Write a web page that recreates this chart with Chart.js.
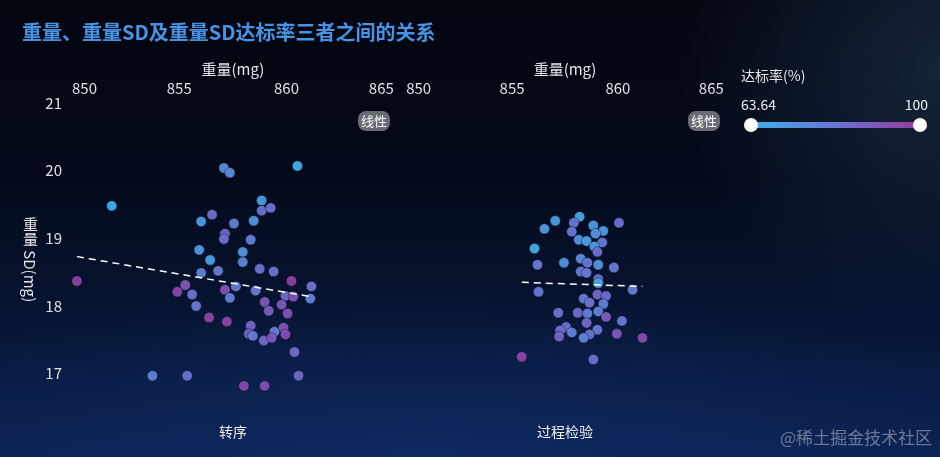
<!DOCTYPE html>
<html><head><meta charset="utf-8">
<script src="https://cdn.jsdelivr.net/npm/chart.js@4.4.0/dist/chart.umd.min.js"></script>
<style>
html,body{margin:0;padding:0;width:940px;height:457px;overflow:hidden;}
body{position:relative;font-family:"Noto Sans CJK SC","Noto Sans",sans-serif;
background:
 radial-gradient(ellipse 260px 260px at 100% 15%, rgba(40,70,100,0.45), rgba(0,0,0,0) 100%),
 radial-gradient(ellipse 700px 160px at 45% 100%, rgba(18,50,110,0.55), rgba(0,0,0,0) 100%),
 linear-gradient(180deg,#03060f 0%,#040a1a 40%,#071636 72%,#0a2050 100%);}
canvas{position:absolute;top:0;}
#c1{left:0;}
#c2{left:400px;}
.title{position:absolute;left:22px;top:18px;font-size:20px;font-weight:bold;color:#4793e6;line-height:28px;white-space:nowrap;}
.ytitle{position:absolute;left:20px;top:217px;writing-mode:vertical-rl;font-size:15px;color:#e6e6e6;line-height:20px;}
.badge{position:absolute;top:111px;width:32px;height:20px;border-radius:8px;background:rgba(110,112,121,0.95);color:#fff;font-size:13px;line-height:20px;text-align:center;}
.lg-name{position:absolute;left:741px;top:65px;font-size:14px;color:#e6e6e6;line-height:20px;}
.lg-min{position:absolute;left:741px;top:94px;font-size:14px;color:#f0f0f0;line-height:20px;}
.lg-max{position:absolute;right:12px;top:94px;font-size:14px;color:#f0f0f0;line-height:20px;}
.lg-bar{position:absolute;left:751px;top:122px;width:169px;height:6px;border-radius:3px;background:linear-gradient(90deg,#3fb0ea,#6b74d2,#933a9e);}
.lg-h{position:absolute;top:118px;width:14px;height:14px;border-radius:7px;background:#fff;}
.wm{position:absolute;right:8px;top:425px;font-size:17px;color:rgba(190,195,205,0.55);line-height:24px;}
</style></head>
<body>
<canvas id="c1" width="400" height="457"></canvas>
<canvas id="c2" width="330" height="457"></canvas>
<div class="title">重量、重量SD及重量SD达标率三者之间的关系</div>
<div class="ytitle">重量 SD(mg)</div>
<div class="badge" style="left:358px">线性</div>
<div class="badge" style="left:688px">线性</div>
<div class="lg-name">达标率(%)</div>
<div class="lg-min">63.64</div>
<div class="lg-max">100</div>
<div class="lg-bar"></div>
<div class="lg-h" style="left:744px"></div>
<div class="lg-h" style="left:913px"></div>
<div class="wm">@稀土掘金技术社区</div>
<script>
// ---- data ----
const categories = ['转序', '过程检验'];
const rateRange = [63.64, 100];

const zxWeight = [851.85,857.08,857.36,860.51,858.84,858.84,859.26,856.53,856.02,857.55,858.47,857.13,857.08,858.33,855.93,857.96,856.44,857.96,856.02,856.81,858.75,859.40,860.23,861.16,855.28,854.91,855.60,855.79,857.13,857.64,857.36,858.56,858.98,859.95,860.32,861.11,859.77,859.17,860.05,856.39,857.22,858.33,859.86,858.24,858.43,859.44,859.95,858.94,859.31,860.37,853.75,855.37,860.56,858.01,858.98,850.23];
const zxSD = [19.48,20.04,19.97,20.07,19.56,19.41,19.45,19.35,19.25,19.22,19.26,19.07,18.99,18.98,18.83,18.80,18.68,18.65,18.49,18.52,18.55,18.51,18.37,18.29,18.31,18.21,18.17,18.00,18.24,18.29,18.12,18.23,18.06,18.15,18.14,18.11,18.02,17.93,17.89,17.83,17.77,17.71,17.68,17.59,17.56,17.62,17.58,17.49,17.53,17.32,16.97,16.97,16.97,16.82,16.82,18.37];
const zxRate = [64,75,75,64,70,82,82,83,70,78,73,85,82,78,70,72,68,76,78,80,82,82,98,82,90,96,82,80,92,80,78,80,90,85,92,78,90,88,92,97,96,86,92,86,80,78,94,86,90,84,78,82,86,95,93,97];
const zxTrendWeight = [850.23, 861.11];
const zxTrendSD = [18.73, 18.14];

const gcWeight = [858.19,857.04,857.92,856.53,860.05,858.84,859.31,857.82,858.94,858.15,858.52,859.26,858.89,859.03,856.06,857.45,858.24,858.56,856.20,859.07,859.81,858.24,858.52,859.07,859.07,856.25,860.69,859.03,859.44,858.38,858.66,859.31,857.18,858.10,858.56,859.07,859.44,858.52,860.19,859.03,857.55,857.27,857.82,858.66,859.95,857.22,858.38,861.16,855.46,858.84];
const gcSD = [19.32,19.26,19.23,19.14,19.23,19.19,19.11,19.10,19.07,18.98,18.96,18.94,18.88,18.80,18.85,18.64,18.70,18.64,18.61,18.61,18.57,18.51,18.49,18.40,18.34,18.21,18.24,18.17,18.15,18.11,18.05,18.03,17.90,17.90,17.89,17.92,17.84,17.75,17.78,17.65,17.69,17.64,17.61,17.58,17.59,17.55,17.53,17.53,17.25,17.21];
const gcRate = [67,70,80,70,82,70,70,80,72,72,68,80,70,82,65,72,75,80,80,72,80,80,80,82,68,80,80,86,84,80,82,78,82,84,78,78,88,84,80,80,82,82,78,82,90,86,78,94,96,84];
const gcTrendWeight = [855.46, 861.16];
const gcTrendSD = [18.35, 18.29];

const weightTicks = [850, 855, 860, 865];
const sdTicks = [17, 18, 19, 20, 21];

// ---- styling helpers ----
const FONT = '"Noto Sans CJK SC", "Noto Sans", sans-serif';
Chart.defaults.font.family = FONT;
const stops = [[0,[63,176,234]],[0.5,[107,116,210]],[1,[147,58,158]]];
function rateColor(r){
  let t = (r - rateRange[0]) / (rateRange[1] - rateRange[0]);
  t = Math.max(0, Math.min(1, t));
  let i = t <= 0.5 ? 0 : 1;
  const a = stops[i], b = stops[i+1];
  const u = (t - a[0]) / (b[0] - a[0]);
  const c = a[1].map((v,k)=>Math.round(v + (b[1][k]-v)*u));
  return `rgba(${c[0]},${c[1]},${c[2]},0.95)`;
}

function makeChart(id, cat, w, sd, rate, tw, tsd, showY, padL, padR){
  const pts = w.map((x,i)=>({x, y: sd[i]}));
  const trend = tw.map((x,i)=>({x, y: tsd[i]}));
  return new Chart(document.getElementById(id), {
    type: 'scatter',
    data: { datasets: [
      { data: trend, showLine: true, borderColor: '#ffffff', borderWidth: 1.5, borderDash: [7,5], pointRadius: 0, fill: false },
      { data: pts, backgroundColor: rate.map(rateColor), borderColor: 'rgba(10,10,30,0.45)', borderWidth: 1, pointRadius: 5.2 }
    ]},
    options: {
      responsive: false, animation: false,
      layout: { padding: { left: padL, right: padR, top: 0, bottom: 0 } },
      plugins: { legend: { display: false }, tooltip: { enabled: false } },
      scales: {
        x: { type: 'linear', position: 'top', min: weightTicks[0], max: weightTicks[weightTicks.length-1],
             afterBuildTicks: s => { s.ticks = weightTicks.map(v=>({value:v})); },
             grid: { display: false, drawTicks: false }, border: { display: false },
             ticks: { align: 'inner', padding: 6, color: '#e0e0e0', font: { size: 15 } },
             title: { display: true, text: '重量(mg)', color: '#e6e6e6', font: { size: 15 }, padding: { top: 60, bottom: 0 } },
             afterFit: s => { s.height = 103; } },
        xb: { type: 'linear', position: 'bottom', min: weightTicks[0], max: weightTicks[weightTicks.length-1],
             grid: { display: false, drawTicks: false }, border: { display: false },
             ticks: { display: false },
             title: { display: true, text: cat, color: '#eeeeee', font: { size: 14 }, padding: { top: 0, bottom: 17 } },
             afterFit: s => { s.height = 63; } },
        y: { type: 'linear', position: 'left', display: showY, min: 16.7, max: sdTicks[sdTicks.length-1],
             afterBuildTicks: s => { s.ticks = sdTicks.map(v=>({value:v})); },
             grid: { display: false, drawTicks: false }, border: { display: false },
             ticks: { padding: 10, color: '#e0e0e0', font: { size: 15 } },
             afterFit: s => { s.width = showY ? 72 : 0; } }
      }
    }
  });
}

makeChart('c1', categories[0], zxWeight, zxSD, zxRate, zxTrendWeight, zxTrendSD, true, 0, 4);
makeChart('c2', categories[1], gcWeight, gcSD, gcRate, gcTrendWeight, gcTrendSD, false, 2, 4);
</script>
</body></html>
